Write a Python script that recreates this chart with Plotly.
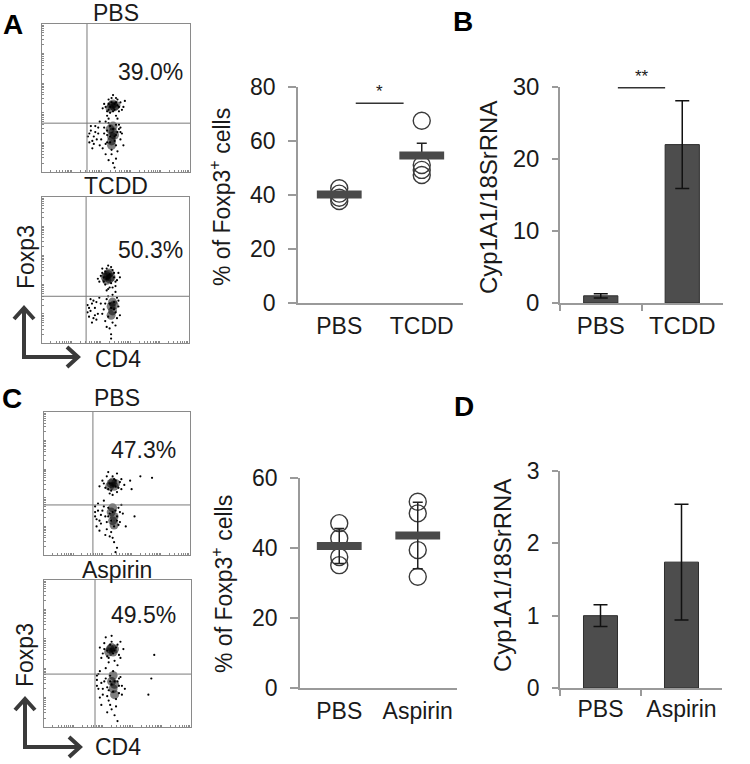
import numpy as np
import plotly.graph_objects as go

W, H = 750, 764
FONT = "Liberation Sans, Arial, sans-serif"
TXT = "#1a1a1a"
AX = "#9a9a9a"

# ---------------- data ----------------
flow_titles = ["PBS", "TCDD", "PBS", "Aspirin"]
flow_pct = ["39.0%", "50.3%", "47.3%", "49.5%"]
flow_gate_x = [30.4, 30.0, 33.5, 34.7]
flow_gate_y = [33.0, 32.0, 35.0, 36.0]

flowA_pbs_pts = [(42, 46), (44, 41), (45, 49), (46, 44), (47, 47), (49, 42), (50, 50), (51, 45), (53, 47),
                 (52, 41), (55, 44), (41, 43), (48, 52), (44, 38), (50, 38), (56, 48), (46, 40), (49, 46),
                 (43, 44), (45, 42), (50, 47), (52, 44), (47, 50), (45, 46), (48, 41), (51, 49), (54, 42),
                 (33, 28), (35, 24), (32, 20), (36, 31), (38, 26), (40, 22), (42, 30), (41, 16), (44, 25),
                 (45, 33), (46, 20), (48, 29), (49, 24), (50, 18), (51, 27), (53, 22), (52, 32), (54, 26),
                 (47, 12), (50, 9), (48, 6), (43, 12), (45, 36), (39, 34), (55, 18), (47, 15), (34, 16),
                 (31, 24), (33, 31), (35, 19), (37, 22), (44, 28), (46, 31), (50, 25), (52, 29), (49, 21),
                 (44, 20), (43, 34), (51, 14), (46, 24), (50, 32), (53, 27), (49, 3), (45, 8),
                 (32, 26), (34, 21), (36, 27), (38, 30), (39, 18), (42, 26), (43, 19), (51, 36), (53, 30)]
flowA_pbs_core = [(47, 45), (49, 44), (48, 46), (50, 45), (46, 43), (46, 29), (48, 27), (47, 24),
                  (48, 31), (47, 21), (49, 25), (47, 18)]

flowA_tcdd_pts = [(40, 46), (42, 42), (43, 49), (44, 44), (46, 47), (47, 41), (48, 50), (49, 45), (51, 43),
                  (52, 48), (41, 51), (45, 53), (50, 39), (38, 44), (53, 45), (46, 38), (44, 36),
                  (41, 48), (43, 40), (47, 52), (49, 48), (50, 42), (42, 45), (48, 38), (44, 51), (39, 42),
                  (31, 26), (33, 22), (32, 18), (35, 29), (36, 24), (38, 20), (40, 27), (42, 23), (44, 30),
                  (45, 18), (47, 24), (49, 28), (50, 21), (51, 31), (52, 25), (48, 14), (46, 10), (50, 12),
                  (47, 6), (43, 15), (53, 19), (34, 14), (48, 33), (39, 31), (31, 21), (34, 27), (37, 16),
                  (46, 27), (49, 23), (45, 32), (51, 17), (47, 3), (44, 11), (33, 30), (36, 19),
                  (32, 24), (35, 17), (37, 28), (41, 20), (43, 27), (50, 35), (52, 29), (45, 37)]
flowA_tcdd_core = [(44, 46), (46, 44), (45, 47), (47, 45), (44, 43), (43, 45), (46, 48), (48, 28),
                   (47, 25), (48, 22), (49, 26), (47, 19)]

flowC_pbs_pts = [(40, 52), (42, 47), (43, 55), (45, 50), (46, 45), (48, 53), (49, 48), (50, 44), (52, 51),
                 (53, 46), (44, 58), (50, 57), (55, 49), (38, 48), (47, 42), (66, 55), (74, 54), (59, 52),
                 (60, 46), (41, 50), (44, 46), (47, 55), (51, 47), (49, 52), (45, 43), (53, 53),
                 (35, 30), (36, 25), (37, 36), (39, 22), (40, 31), (42, 27), (43, 18), (44, 33),
                 (46, 24), (47, 30), (48, 20), (50, 27), (51, 33), (52, 23), (54, 29), (45, 13), (48, 9),
                 (50, 5), (46, 16), (38, 17), (62, 27), (56, 20), (41, 38), (35, 34), (36, 20), (39, 28),
                 (43, 23), (45, 29), (49, 31), (51, 21), (53, 35), (47, 12), (42, 14), (49, 2),
                 (35, 27), (37, 31), (38, 24), (41, 34), (44, 27), (50, 24), (52, 30)]
flowC_pbs_core = [(46, 50), (48, 48), (47, 51), (45, 48), (49, 50), (46, 30), (48, 27), (47, 24),
                  (47, 33), (48, 21)]

flowC_asp_pts = [(38, 54), (40, 50), (41, 57), (43, 52), (44, 47), (45, 56), (47, 50), (48, 45), (49, 54),
                 (51, 49), (52, 58), (42, 61), (50, 42), (54, 53), (75, 49), (46, 62), (41, 53), (43, 48),
                 (46, 58), (48, 52), (50, 56), (44, 44), (52, 47), (39, 47),
                 (36, 32), (37, 26), (38, 38), (40, 22), (41, 31), (43, 27), (44, 18), (45, 35), (47, 24),
                 (48, 31), (49, 19), (51, 28), (52, 34), (53, 22), (46, 12), (48, 8), (50, 4), (45, 15),
                 (39, 15), (73, 33), (71, 22), (55, 26), (42, 40), (36, 28), (38, 20), (42, 33), (44, 25),
                 (46, 29), (50, 31), (51, 23), (49, 14), (37, 36), (43, 10), (47, 38),
                 (36, 35), (39, 30), (40, 26), (43, 21), (45, 31), (51, 33), (53, 28)]
flowC_asp_core = [(45, 53), (47, 51), (46, 54), (44, 51), (48, 53), (46, 31), (48, 29), (47, 26),
                  (47, 35), (48, 22)]

cats_A = ["PBS", "TCDD"]
A_pbs_pct = [42.5, 40.5, 39.0, 37.8]
A_tcdd_pct = [67.5, 51.1, 49.3, 47.4]
A_means = [40.2, 54.6]
A_err_up = [1.0, 4.6]
A_sig_y = 74

cats_B = ["PBS", "TCDD"]
B_vals = [1.0, 22.0]
B_err = [0.3, 6.1]
B_sig_y = 29.9

cats_C = ["PBS", "Aspirin"]
C_pbs_pct = [47.1, 42.8, 37.4, 35.1]
C_asp_pct = [53.2, 49.9, 39.4, 31.8]
C_means = [40.6, 43.6]
C_err = [5.0, 9.5]

cats_D = ["PBS", "Aspirin"]
D_vals = [1.0, 1.74]
D_err = [0.15, 0.8]


# ---------------- helpers ----------------
def fx(px):
    return px / W


def fy(py):
    return 1 - py / H


def note(text, x, y, size=23, angle=0, color=TXT, xref="paper", yref="paper", yanchor="middle"):
    return dict(text=text, x=x, y=y, xref=xref, yref=yref, showarrow=False, textangle=angle,
                xanchor="center", yanchor=yanchor, font=dict(size=size, color=color))


layout = dict(width=W, height=H, margin=dict(l=0, r=0, t=0, b=0, autoexpand=False),
              template="none", autosize=False,
              plot_bgcolor="white", paper_bgcolor="white", showlegend=False,
              font=dict(family=FONT, color=TXT, size=22))
annotations = []
shapes = []
fig = go.Figure()

# log-style minor ticks for flow frames (styling only)
logticks = [20 * d + 20 * np.log10(k) for d in range(5) for k in range(1, 10)]
logticks = [t for t in logticks if t <= 100]

flow_boxes = {1: (42, 190, 24, 172), 2: (42, 189, 197, 343), 5: (44, 190, 412, 555), 6: (44, 191, 580, 727)}
flow_sets = {1: (flowA_pbs_pts, flowA_pbs_core, 0), 2: (flowA_tcdd_pts, flowA_tcdd_core, 1),
             5: (flowC_pbs_pts, flowC_pbs_core, 2), 6: (flowC_asp_pts, flowC_asp_core, 3)}

for n, (x0, x1, y0, y1) in flow_boxes.items():
    xa, ya = f"xaxis{n}", f"yaxis{n}"
    common = dict(range=[0, 100], showgrid=False, zeroline=False, showline=True, mirror=True,
                  linecolor="#8a8a8a", linewidth=1, ticks="inside", ticklen=2, tickcolor="#8a8a8a",
                  tickvals=logticks, showticklabels=False, automargin=False)
    layout[xa] = dict(domain=[fx(x0), fx(x1)], anchor=f"y{n}", **common)
    layout[ya] = dict(domain=[fy(y1), fy(y0)], anchor=f"x{n}", **common)
    pts, core, i = flow_sets[n]
    fig.add_trace(go.Scatter(x=[p[0] for p in core], y=[p[1] for p in core], mode="markers",
                             xaxis=f"x{n}", yaxis=f"y{n}", hoverinfo="skip",
                             marker=dict(size=9, color="black", opacity=0.5, line=dict(width=0))))
    fig.add_trace(go.Scatter(x=[p[0] for p in pts], y=[p[1] for p in pts], mode="markers",
                             xaxis=f"x{n}", yaxis=f"y{n}", hoverinfo="skip",
                             marker=dict(size=2.2, color="black", line=dict(width=0))))
    shapes.append(dict(type="line", xref=f"x{n}", yref=f"y{n}", x0=flow_gate_x[i], x1=flow_gate_x[i],
                       y0=0, y1=100, line=dict(color="#7a7a7a", width=1)))
    shapes.append(dict(type="line", xref=f"x{n}", yref=f"y{n}", x0=0, x1=100,
                       y0=flow_gate_y[i], y1=flow_gate_y[i], line=dict(color="#7a7a7a", width=1)))

# flow text
flow_title_pos = [(116, 13), (116, 186), (117, 398), (117, 570)]
flow_pct_pos = [(150, 72), (150, 250), (143, 450), (143, 615)]
for i in range(4):
    annotations.append(note(flow_titles[i], fx(flow_title_pos[i][0]), fy(flow_title_pos[i][1])))
    annotations.append(note(flow_pct[i], fx(flow_pct_pos[i][0]), fy(flow_pct_pos[i][1])))

for (fxp, fyp), (cxp, cyp) in [((26, 257), (118, 359)), ((25, 655), (118, 747))]:
    annotations.append(note("Foxp3", fx(fxp), fy(fyp), angle=-90))
    annotations.append(note("CD4", fx(cxp), fy(cyp)))

# L arrows
arrow_sets = [(24, 357, 308, 78), (25, 747, 699, 80)]
for ax0, ay0, tipy, tipx in arrow_sets:
    path = (f"M {fx(ax0)} {fy(tipy)} L {fx(ax0)} {fy(ay0)} L {fx(tipx)} {fy(ay0)}")
    shapes.append(dict(type="path", xref="paper", yref="paper", path=path,
                       line=dict(color="#3a3a3a", width=4)))
    shapes.append(dict(type="path", xref="paper", yref="paper",
                       path=f"M {fx(ax0-10)} {fy(tipy+11)} L {fx(ax0)} {fy(tipy)} L {fx(ax0+10)} {fy(tipy+11)}",
                       line=dict(color="#3a3a3a", width=4)))
    shapes.append(dict(type="path", xref="paper", yref="paper",
                       path=f"M {fx(tipx-11)} {fy(ay0-10)} L {fx(tipx)} {fy(ay0)} L {fx(tipx-11)} {fy(ay0+10)}",
                       line=dict(color="#3a3a3a", width=4)))

# panel letters
for t, (lx, ly) in zip("ABCD", [(13, 24), (463, 22), (12, 399), (464, 406)]):
    annotations.append(note(f"<b>{t}</b>", fx(lx), fy(ly), size=28, color="black"))


# ---------------- scatter panels ----------------
def scatter_panel(n, cats, g1, g2, means, eplus, eminus, ymax, dtick, xdom, ydom, tfont):
    layout[f"xaxis{n}"] = dict(domain=[fx(xdom[0]), fx(xdom[1])], anchor=f"y{n}", type="category",
                               categoryorder="array", categoryarray=cats, range=[-0.5, 1.5],
                               showline=True, linecolor=AX, linewidth=1.5, ticks="", showgrid=False,
                               zeroline=False, tickfont=dict(size=tfont), ticklabelstandoff=2,
                               automargin=False)
    layout[f"yaxis{n}"] = dict(domain=[fy(ydom[1]), fy(ydom[0])], anchor=f"x{n}", range=[0, ymax],
                               dtick=dtick, showline=True, linecolor=AX, linewidth=1.5, ticks="outside",
                               ticklen=8, tickcolor=AX, tickwidth=1.5, showgrid=False, zeroline=False,
                               tickfont=dict(size=tfont), ticklabelstandoff=8, automargin=False)
    xs = [cats[0]] * len(g1) + [cats[1]] * len(g2)
    fig.add_trace(go.Scatter(x=xs, y=g1 + g2, mode="markers", xaxis=f"x{n}", yaxis=f"y{n}",
                             marker=dict(symbol="circle-open", size=17, color="#3a3a3a",
                                         line=dict(width=1.4, color="#3a3a3a"))))
    fig.add_trace(go.Scatter(x=cats, y=means, mode="markers", xaxis=f"x{n}", yaxis=f"y{n}",
                             marker=dict(size=1, opacity=0),
                             error_y=dict(type="data", array=eplus, arrayminus=eminus, color="#222",
                                          thickness=1.5, width=5)))
    fig.add_trace(go.Scatter(x=cats, y=means, mode="markers", xaxis=f"x{n}", yaxis=f"y{n}",
                             marker=dict(symbol="line-ew", size=32, color="#4a4a4a",
                                         line=dict(width=8, color="#4a4a4a"))))


scatter_panel(3, cats_A, A_pbs_pct, A_tcdd_pct, A_means, A_err_up, [0, 0], 80, 20, (298, 463), (87, 303), 23)
scatter_panel(7, cats_C, C_pbs_pct, C_asp_pct, C_means, C_err, C_err, 60, 20, (300, 457), (478, 688), 23)

shapes.append(dict(type="line", xref="x3", yref="y3", x0=0.2, x1=0.78, y0=A_sig_y, y1=A_sig_y,
                   line=dict(color="#333", width=1.5)))
annotations.append(note("*", 0.49, A_sig_y, size=17, xref="x3", yref="y3", yanchor="bottom"))

annotations.append(note("% of Foxp3<sup>+</sup> cells", fx(220), fy(197), angle=-90))
annotations.append(note("% of Foxp3<sup>+</sup> cells", fx(222), fy(584), angle=-90))


# ---------------- bar panels ----------------
def bar_panel(n, cats, vals, err, ymax, dtick, xdom, ydom, tfont):
    layout[f"xaxis{n}"] = dict(domain=[fx(xdom[0]), fx(xdom[1])], anchor=f"y{n}", type="category",
                               categoryorder="array", categoryarray=cats, range=[-0.5, 1.5],
                               showline=True, linecolor=AX, linewidth=1.5, ticks="outside",
                               tickson="boundaries", ticklen=6, tickcolor=AX, tickwidth=1.5,
                               showgrid=False, zeroline=False, tickfont=dict(size=tfont),
                               ticklabelstandoff=0, automargin=False)
    layout[f"yaxis{n}"] = dict(domain=[fy(ydom[1]), fy(ydom[0])], anchor=f"x{n}", range=[0, ymax],
                               dtick=dtick, showline=True, linecolor=AX, linewidth=1.5, ticks="outside",
                               ticklen=6, tickcolor=AX, tickwidth=1.5, showgrid=False, zeroline=False,
                               tickfont=dict(size=tfont), ticklabelstandoff=8, automargin=False)
    fig.add_trace(go.Bar(x=cats, y=vals, width=0.42, xaxis=f"x{n}", yaxis=f"y{n}",
                         marker=dict(color="#4d4d4d", line=dict(color="#2e2e2e", width=1)),
                         error_y=dict(type="data", array=err, color="#111", thickness=1.5, width=7)))


bar_panel(4, cats_B, B_vals, B_err, 30, 10, (560, 723), (87, 303), 24)
bar_panel(8, cats_D, D_vals, D_err, 3, 1, (560, 722), (471, 688), 23)

shapes.append(dict(type="line", xref="x4", yref="y4", x0=0.21, x1=0.79, y0=B_sig_y, y1=B_sig_y,
                   line=dict(color="#333", width=1.5)))
annotations.append(note("**", 0.5, B_sig_y, size=17, xref="x4", yref="y4", yanchor="bottom"))

annotations.append(note("Cyp1A1/18SrRNA", fx(488), fy(197), size=24, angle=-90))
annotations.append(note("Cyp1A1/18SrRNA", fx(502), fy(576), size=24, angle=-90))

layout["annotations"] = annotations
layout["shapes"] = shapes
fig.update_layout(**layout)
fig.write_html("out.html", config={"displayModeBar": False},
               post_script="document.body.style.margin='0px';document.body.style.padding='0px';")
